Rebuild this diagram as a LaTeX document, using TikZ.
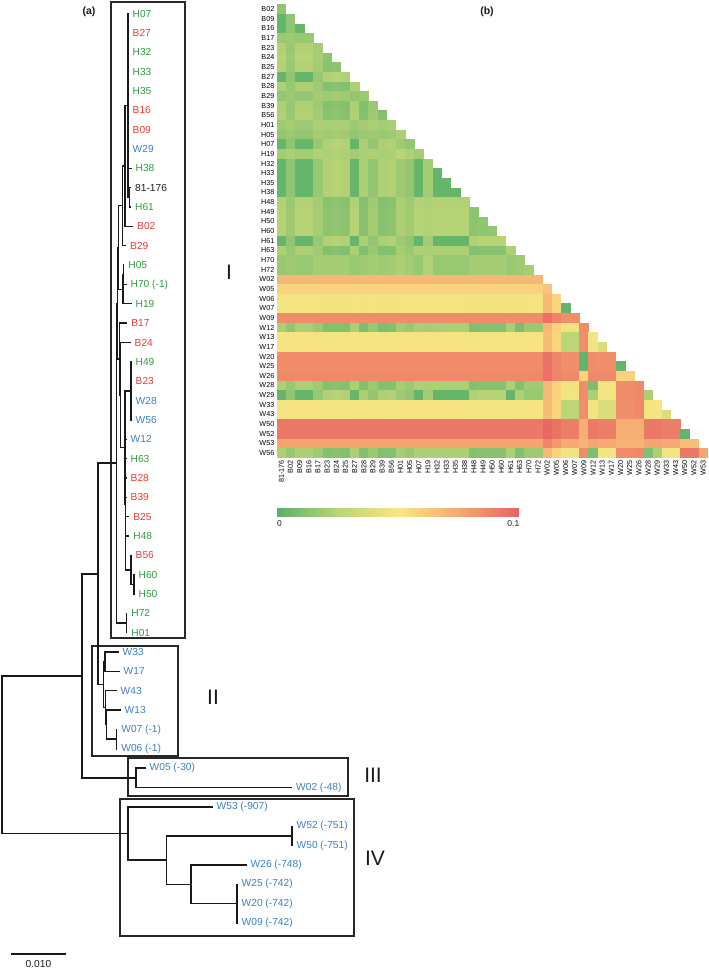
\documentclass[tikz,border=0pt]{standalone}
\usepackage{fontspec}
\setmainfont{Liberation Sans}
\usetikzlibrary{positioning,calc}
\definecolor{leafgreen}{RGB}{45,158,62}
\definecolor{leafred}{RGB}{236,60,48}
\definecolor{leafblue}{RGB}{58,128,200}
\definecolor{leafblack}{RGB}{30,30,30}
\definecolor{treegray}{RGB}{25,25,25}
\definecolor{boxgray}{RGB}{40,40,40}
\definecolor{hmG0}{RGB}{90,178,106}
\definecolor{hmG1}{RGB}{186,212,118}
\definecolor{hmY}{RGB}{250,230,130}
\definecolor{hmO}{RGB}{245,168,112}
\definecolor{hmR}{RGB}{232,98,98}
\newcommand\leaffont{\fontsize{10.2}{12}\selectfont}
\newcommand\hmfont{\fontsize{7.2}{8}\selectfont}
\newcommand\cladefont{\fontsize{21}{24}\selectfont}
\tikzset{
    branch/.style={line width=1.4pt, draw=treegray, line cap=rect},
    leafname/.style={font=\leaffont, inner sep=0pt, anchor=west},
    cladebox/.style={line width=1.2pt, draw=boxgray},
    cladenum/.style={font=\cladefont, text=treegray},
    panellab/.style={font=\fontsize{10.5}{12}\selectfont\bfseries, text=treegray},
    rowlab/.style={font=\hmfont, anchor=east, inner sep=0pt, text=black},
    collab/.style={font=\hmfont, anchor=east, rotate=90, inner sep=0pt, text=black},
    cbarlab/.style={font=\fontsize{8.5}{10}\selectfont, inner sep=0pt, text=leafblack},
}
% leaf: name, row, tip x, colour, text
\newcommand\treeleaf[5]{%
    \coordinate (t#1) at (#3, {13.5+19.35*#2});
    \node[leafname, text=#4, right=4.5pt of t#1] (l#1) {#5};}
% internal node: name, x, first child, last child
\newcommand\cladenode[4]{%
    \path let \p1=($(#3)!0.5!(#4)$) in coordinate (#1) at (#2pt,\y1);}
\newcommand\cladebranches[2]{\foreach \ch in {#2}{\draw[branch] (#1) |- (\ch);}}
% colour of a distance (in 0.001)
\newcommand\setheat[1]{%
    \pgfmathtruncatemacro\hv{max(0,min(100,#1))}%
    \ifnum\hv<25 \pgfmathtruncatemacro\hp{\hv*4}\colorlet{hc}{hmG1!\hp!hmG0}%
    \else\ifnum\hv<50 \pgfmathtruncatemacro\hp{(\hv-25)*4}\colorlet{hc}{hmY!\hp!hmG1}%
    \else\ifnum\hv<75 \pgfmathtruncatemacro\hp{(\hv-50)*4}\colorlet{hc}{hmO!\hp!hmY}%
    \else \pgfmathtruncatemacro\hp{(\hv-75)*4}\colorlet{hc}{hmR!\hp!hmO}%
    \fi\fi\fi}
% taxon groups, offsets and group distances
\def\hmcode{{1,3,1,1,3,2,2,2,1,2,3,2,2,3,3,1,3,1,1,1,1,2,2,2,2,1,2,3,3,7,6,4,4,8,2,5,5,8,8,9,2,1,5,5,10,10,11,2}}
\def\hmoff{{0,-2,0,0,0,0,1,0,0,-1,-1,-1,0,2,-1,0,3,0,0,0,0,0,1,1,1,0,-1,0,0,0,0,0,0,0,-2,0,0,0,0,0,-1,0,0,0,0,0,0,-1}}
\def\hmval{{3,23,16,47,48,58,68,85,86,92,76,
    23,12,19,46,47,58,68,85,86,92,76,
    16,19,20,47,48,58,68,85,86,92,76,
    47,46,47,2,26,57,68,84,86,90,74,
    48,47,48,26,38,57,67,84,86,90,74,
    58,58,58,57,57,0,64,88,88,94,80,
    68,68,68,68,67,64,0,95,95,98,88,
    85,85,85,84,84,88,95,2,58,72,70,
    86,86,86,86,86,88,95,58,0,72,70,
    92,92,92,90,90,94,98,72,72,2,66,
    76,76,76,74,74,80,88,70,70,66,0}}

\begin{document}
\begin{tikzpicture}[x=1pt, y=-1pt]
    \useasboundingbox (0,0) rectangle (709,970);

    % (a) tree
    \node[panellab] (pa) at (89,12) {(a)};
    \draw[cladebox] (111,2) rectangle (185,638);
    \draw[cladebox] (92,646) rectangle (178,756);
    \draw[cladebox] (128,758) rectangle (348,796);
    \draw[cladebox] (120,799) rectangle (354,936);
    \node[cladenum] (numI) at (229,272) {I};
    \node[cladenum] (numII) at (213,697) {II};
    \node[cladenum] (numIII) at (373,775) {III};
    \node[cladenum] (numIV) at (375,858) {IV};

    \treeleaf{H07}{0}{128}{leafgreen}{H07}
    \treeleaf{B27}{1}{128}{leafred}{B27}
    \treeleaf{H32}{2}{128}{leafgreen}{H32}
    \treeleaf{H33}{3}{128}{leafgreen}{H33}
    \treeleaf{H35}{4}{128}{leafgreen}{H35}
    \treeleaf{B16}{5}{128}{leafred}{B16}
    \treeleaf{B09}{6}{128}{leafred}{B09}
    \treeleaf{W29}{7}{128}{leafblue}{W29}
    \treeleaf{H38}{8}{131}{leafgreen}{H38}
    \treeleaf{R81}{9}{130.5}{leafblack}{81-176}
    \treeleaf{H61}{10}{130.5}{leafgreen}{H61}
    \treeleaf{B02}{11}{132.5}{leafred}{B02}
    \treeleaf{B29}{12}{125.5}{leafred}{B29}
    \treeleaf{H05}{13}{123.7}{leafgreen}{H05}
    \treeleaf{H70}{14}{126}{leafgreen}{H70 (-1)}
    \treeleaf{H19}{15}{131}{leafgreen}{H19}
    \treeleaf{B17}{16}{126.7}{leafred}{B17}
    \treeleaf{B24}{17}{130}{leafred}{B24}
    \treeleaf{H49}{18}{131}{leafgreen}{H49}
    \treeleaf{B23}{19}{131}{leafred}{B23}
    \treeleaf{W28}{20}{131}{leafblue}{W28}
    \treeleaf{W56}{21}{131}{leafblue}{W56}
    \treeleaf{W12}{22}{126}{leafblue}{W12}
    \treeleaf{H63}{23}{126}{leafgreen}{H63}
    \treeleaf{B28}{24}{126}{leafred}{B28}
    \treeleaf{B39}{25}{126}{leafred}{B39}
    \treeleaf{B25}{26}{128.7}{leafred}{B25}
    \treeleaf{H48}{27}{128.7}{leafgreen}{H48}
    \treeleaf{B56}{28}{131}{leafred}{B56}
    \treeleaf{H60}{29}{134}{leafgreen}{H60}
    \treeleaf{H50}{30}{134}{leafgreen}{H50}
    \treeleaf{H72}{31}{126.7}{leafgreen}{H72}
    \treeleaf{H01}{32}{126.7}{leafgreen}{H01}
    \treeleaf{W33}{33}{118}{leafblue}{W33}
    \treeleaf{W17}{34}{119}{leafblue}{W17}
    \treeleaf{W43}{35}{116}{leafblue}{W43}
    \treeleaf{W13}{36}{120}{leafblue}{W13}
    \treeleaf{W07}{37}{116.7}{leafblue}{W07 (-1)}
    \treeleaf{W06}{38}{116.7}{leafblue}{W06 (-1)}
    \treeleaf{W05}{39}{145}{leafblue}{W05 (-30)}
    \treeleaf{W02}{40}{291.5}{leafblue}{W02 (-48)}
    \treeleaf{W53}{41}{212}{leafblue}{W53 (-907)}
    \treeleaf{W52}{42}{292}{leafblue}{W52 (-751)}
    \treeleaf{W50}{43}{292}{leafblue}{W50 (-751)}
    \treeleaf{W26}{44}{246}{leafblue}{W26 (-748)}
    \treeleaf{W25}{45}{237}{leafblue}{W25 (-742)}
    \treeleaf{W20}{46}{237}{leafblue}{W20 (-742)}
    \treeleaf{W09}{47}{237}{leafblue}{W09 (-742)}

    % clade I
    \cladenode{nP}{129.5}{tR81}{tH61}
    \cladenode{nTop}{128}{tH07}{nP}
    \cladenode{nN1}{125}{nTop}{tB02}
    \cladenode{nN2}{122.7}{nN1}{tB29}
    \cladenode{nN3a}{123.7}{tH05}{tH70}
    \cladenode{nN3}{123}{nN3a}{tH19}
    \cladenode{nN4}{118.3}{nN2}{nN3}
    \cladenode{nN9}{131}{tH49}{tW56}
    \cladenode{nN12}{134}{tH60}{tH50}
    \cladenode{nN11}{131}{tB56}{nN12}
    \cladenode{nN10}{125.7}{tW12}{nN11}
    \cladenode{nN8}{125}{nN9}{nN10}
    \cladenode{nN7}{120.5}{tB24}{nN8}
    \cladenode{nN6}{119.3}{tB17}{nN7}
    \cladenode{nN5}{117.3}{nN4}{nN6}
    \cladenode{nN13}{126.7}{tH72}{tH01}
    \cladenode{nI}{116.3}{nN5}{nN13}
    % clade II
    \cladenode{nIIA}{105}{tW33}{tW17}
    \cladenode{nIID}{116.7}{tW07}{tW06}
    \cladenode{nIIC}{106.5}{tW13}{nIID}
    \cladenode{nIIB}{105.3}{tW43}{nIIC}
    \cladenode{nII}{103.3}{nIIA}{nIIB}
    \cladenode{nI2}{98}{nI}{nII}
    % clade III
    \cladenode{nIII}{136}{tW05}{tW02}
    \cladenode{nR2}{82}{nI2}{nIII}
    % clade IV
    \cladenode{nIVe}{237}{tW25}{tW09}
    \cladenode{nIVd}{191}{tW26}{nIVe}
    \cladenode{nIVc}{292}{tW52}{tW50}
    \cladenode{nIVb}{166.5}{nIVc}{nIVd}
    \cladenode{nIV}{128}{tW53}{nIVb}
    \cladenode{nRoot}{2}{nR2}{nIV}

    \cladebranches{nP}{tR81,tH61}
    \cladebranches{nTop}{tH07,tB27,tH32,tH33,tH35,tB16,tB09,tW29,tH38,nP}
    \cladebranches{nN1}{nTop,tB02}
    \cladebranches{nN2}{nN1,tB29}
    \cladebranches{nN3a}{tH05,tH70}
    \cladebranches{nN3}{nN3a,tH19}
    \cladebranches{nN4}{nN2,nN3}
    \cladebranches{nN9}{tH49,tB23,tW28,tW56}
    \cladebranches{nN12}{tH60,tH50}
    \cladebranches{nN11}{tB56,nN12}
    \cladebranches{nN10}{tW12,tH63,tB28,tB39,tB25,tH48,nN11}
    \cladebranches{nN8}{nN9,nN10}
    \cladebranches{nN7}{tB24,nN8}
    \cladebranches{nN6}{tB17,nN7}
    \cladebranches{nN5}{nN4,nN6}
    \cladebranches{nN13}{tH72,tH01}
    \cladebranches{nI}{nN5,nN13}
    \cladebranches{nIIA}{tW33,tW17}
    \cladebranches{nIID}{tW07,tW06}
    \cladebranches{nIIC}{tW13,nIID}
    \cladebranches{nIIB}{tW43,nIIC}
    \cladebranches{nII}{nIIA,nIIB}
    \cladebranches{nI2}{nI,nII}
    \cladebranches{nIII}{tW05,tW02}
    \cladebranches{nR2}{nI2,nIII}
    \cladebranches{nIVe}{tW25,tW20,tW09}
    \cladebranches{nIVd}{tW26,nIVe}
    \cladebranches{nIVc}{tW52,tW50}
    \cladebranches{nIVb}{nIVc,nIVd}
    \cladebranches{nIV}{tW53,nIVb}
    \cladebranches{nRoot}{nR2,nIV}

    % scale bar
    \coordinate (sbL) at (11,954);
    \coordinate (sbR) at (66,954);
    \draw[branch, line cap=butt] (sbL) -- (sbR) node[midway, below=6pt, inner sep=0pt, font=\leaffont, text=leafblack] (sblab) {0.010};

    % (b) heatmap
    \node[panellab] (pb) at (487,12) {(b)};
    \foreach \r in {0,...,46}{
        \foreach \c in {0,...,\r}{
            \pgfmathtruncatemacro\ca{\hmcode[\r+1]}
            \pgfmathtruncatemacro\cb{\hmcode[\c]}
            \pgfmathtruncatemacro\hidx{(\ca-1)*11+\cb-1}
            \pgfmathtruncatemacro\hjit{ifthenelse(and(and(\ca<4,\cb<4),not(and(\ca==1,\cb==1))),\hmoff[\r+1]+\hmoff[\c],0)}
            \pgfmathtruncatemacro\hbase{\hmval[\hidx]}
            \setheat{\hbase+\hjit}
            \fill[hc] ({276.7+9.17*\c},{4.3+9.65*\r}) rectangle ++(9.6,10.05);
        }
    }
    \foreach \nm [count=\i from 0] in {81-176,B02,B09,B16,B17,B23,B24,B25,B27,B28,B29,B39,B56,H01,H05,H07,H19,H32,H33,H35,H38,H48,H49,H50,H60,H61,H63,H70,H72,W02,W05,W06,W07,W09,W12,W13,W17,W20,W25,W26,W28,W29,W33,W43,W50,W52,W53,W56}{
        \ifnum\i>0 \node[rowlab] (row\i) at (274.5,{4.3+9.65*(\i-0.5)}) {\nm};\fi
        \ifnum\i<47 \node[collab] (col\i) at ({276.7+9.17*(\i+0.5)},460) {\nm};\fi
    }

    % colour bar
    \foreach \s in {0,...,99}{
        \setheat{\s}
        \fill[hc] ({276.7+2.423*\s},508) rectangle ++(2.7,9);
    }
    \node[cbarlab] (cb0) at (279.5,523.5) {0};
    \node[cbarlab, anchor=east] (cb1) at (519.5,523.5) {0.1};
\end{tikzpicture}
\end{document}
